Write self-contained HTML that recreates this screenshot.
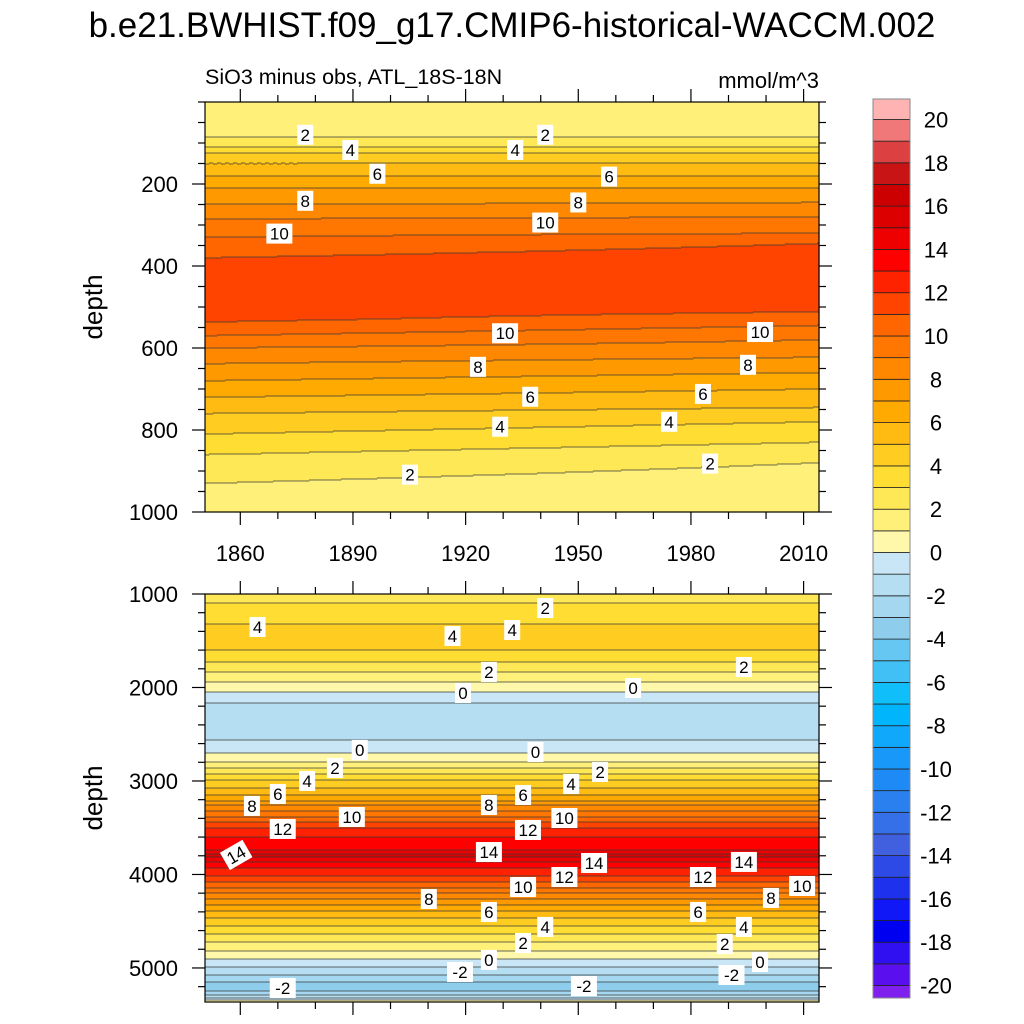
<!DOCTYPE html>
<html><head><meta charset="utf-8"><style>
html,body{margin:0;padding:0;background:#fff;}
svg{display:block;font-family:"Liberation Sans",Arial,sans-serif;}
</style></head><body>
<svg id="chart" width="1024" height="1024" viewBox="0 0 1024 1024" xmlns="http://www.w3.org/2000/svg">
<rect width="1024" height="1024" fill="#fff"/>
<text x="512" y="37" font-size="35" text-anchor="middle" fill="#000">b.e21.BWHIST.f09_g17.CMIP6-historical-WACCM.002</text>
<text x="205" y="84" font-size="21.5" fill="#000">SiO3 minus obs, ATL_18S-18N</text>
<text x="819" y="88" font-size="22" text-anchor="end" fill="#000">mmol/m^3</text>
<text transform="translate(102,307) rotate(-90)" font-size="26" text-anchor="middle">depth</text>
<text transform="translate(102,798) rotate(-90)" font-size="26" text-anchor="middle">depth</text>
<g id="layers"></g>
</svg>
<script>
// ---- data ----
const topDepths = [0, 40, 85, 110, 125, 150, 180, 210, 250, 285, 330, 380, 420, 480, 530, 570, 600, 630, 680, 720, 760, 810, 860, 930, 1000];
const topLeft   = [1.3, 1.3, 2.0, 3.0, 4.0, 5.0, 6.0, 7.0, 8.0, 9.0, 10.0, 11.0, 11.8, 11.9, 11.2, 10.0, 9.0, 8.2, 7.0, 6.0, 5.0, 4.0, 3.0, 2.0, 1.5];
const topRightDepths = [0, 40, 85, 110, 125, 150, 180, 210, 245, 280, 320, 345, 400, 470, 505, 545, 580, 615, 660, 700, 745, 780, 830, 880, 960, 1000];
const topRight  = [1.3, 1.3, 2.0, 3.0, 4.0, 5.0, 6.0, 7.0, 8.0, 9.0, 10.0, 11.0, 11.8, 11.9, 11.2, 10.0, 9.0, 8.2, 7.0, 6.0, 5.0, 4.0, 3.0, 2.0, 1.1, 1.3];
const botDepths = [1000, 1100, 1320, 1500, 1600, 1730, 1830, 1940, 2050, 2170, 2400, 2560, 2700, 2800, 2860, 2930, 2990, 3080, 3145, 3210, 3260, 3320, 3380, 3440, 3508, 3600, 3735, 3800, 3866, 3930, 4020, 4080, 4140, 4200, 4265, 4330, 4394, 4470, 4554, 4640, 4725, 4815, 4906, 4990, 5070, 5150, 5200, 5250, 5290, 5320, 5340, 5364];
const botLeft   = [2.5, 3.0, 4.0, 4.4, 4.0, 3.0, 2.0, 1.0, 0.0, -1.0, -1.6, -1.0, 0.0, 1.0, 2.0, 3.0, 4.0, 5.0, 6.0, 7.0, 8.0, 9.0, 10.0, 11.0, 12.0, 13.0, 14.0, 15.3, 14.0, 13.0, 12.0, 11.0, 10.0, 9.0, 8.0, 7.0, 6.0, 5.0, 4.0, 3.0, 2.0, 1.0, 0.0, -1.0, -2.0, -3.0, -3.5, -3.0, -2.0, -1.0, 0.0, 0.5];
const botRight  = [2.5, 3.0, 4.0, 4.4, 4.0, 3.0, 2.0, 1.0, 0.0, -1.0, -1.9, -1.0, 0.0, 1.0, 2.0, 3.0, 4.0, 5.0, 6.0, 7.0, 8.0, 9.0, 10.0, 11.0, 12.0, 13.0, 14.0, 15.3, 14.0, 13.0, 12.0, 11.0, 10.0, 9.0, 8.0, 7.0, 6.0, 5.0, 4.0, 3.0, 2.0, 1.0, 0.0, -1.0, -2.0, -3.0, -3.5, -3.0, -2.0, -1.0, 0.0, 0.5];
const colorLevels = ["#8020ee","#5a10ee","#3010f0","#0000f0","#1018f8","#1e32ee","#2e4ae6","#4060e0","#3570e8","#2a80ee","#1e8af5","#1898f8","#10a8fa","#00b5fb","#10bff9","#40c0f5","#66c8f2","#8ecdec","#a5d8f0","#b5def2","#c8e6f5",
 "#fff8aa","#fff07a","#ffe855","#ffdd33","#ffcc22","#ffbb11","#ffaa00","#ff9900","#ff8800","#ff7700","#ff6600","#ff4400","#ff2200","#ff0000","#ee0000","#dd0000","#cc0000","#c81414","#dc4040","#f07878","#ffb3b3"];
const cbTicks = [20,18,16,14,12,10,8,6,4,2,0,-2,-4,-6,-8,-10,-12,-14,-16,-18,-20];
const topYTicks = [200,400,600,800,1000];
const botYTicks = [1000,2000,3000,4000,5000];
const xTicks = [1860,1890,1920,1950,1980,2010];
const topLabelYears = [1877.3,1941.2,1889.3,1933.2,1896.5,1958.2,1877.3,1950,1870.4,1941.2,1930.5,1998.4,1923.3,1995.2,1937.2,1983.2,1929.2,1974.2,1905.2,1985.1];
const topLabelDepths = [80,80,117,117,175,182,241,245,321,294,564,561,646,641,719,712,792,780,909,882];
const topLabelText = ["2","2","4","4","6","6","8","8","10","10","10","10","8","8","6","6","4","4","2","2"];
const botLabelYears = [1941.2,1864.6,1916.5,1932.4,1926.2,1994.1,1919.3,1964.6,1891.8,1938.6,1885.2,1955.8,1877.8,1948.1,1870,1935.3,1863.1,1926.2,1889.7,1946.3,1871.3,1936.6,1858.9,1926.2,1954.2,1994.1,1946.3,1983.2,1935.3,2009.6,1910.2,2001.3,1926.2,1981.9,1941.2,1994.1,1935.3,1989,1926.2,1998.4,1918.5,1990.8,1871.3,1951.5];
const botLabelDepths = [1150,1353,1449,1385,1834,1781,2059,2005,2668,2690,2861,2904,3000,3032,3139,3150,3267,3257,3385,3396,3513,3524,3791,3760,3877,3866,4027,4027,4134,4123,4262,4251,4401,4401,4561,4561,4733,4743,4914,4936,5043,5075,5214,5193];
const botLabelText = ["2","4","4","4","2","2","0","0","0","0","2","2","4","4","6","6","8","8","10","10","12","12","14","14","14","14","12","12","10","10","8","8","6","6","4","4","2","2","0","0","-2","-2","-2","-2"];

// ---- layout ----
const NS = "http://www.w3.org/2000/svg";
const X0 = 205, X1 = 819, YR0 = 1850.6, YR1 = 2014.1;
const xScale = yr => X0 + (yr - YR0) / (YR1 - YR0) * (X1 - X0);
const topPanel = {y0:102, y1:512, d0:0, d1:1000};
const botPanel = {y0:594, y1:1002, d0:1000, d1:5364};
const yScale = (p, d) => p.y0 + (d - p.d0) / (p.d1 - p.d0) * (p.y1 - p.y0);
const layers = document.getElementById('layers');
function mk(tag, attrs, parent){ const e = document.createElementNS(NS, tag); for (const k in attrs) e.setAttribute(k, attrs[k]); (parent||layers).appendChild(e); return e; }
function interp(ds, vs, d){
  if (d <= ds[0]) return vs[0];
  for (let i = 1; i < ds.length; i++) if (d <= ds[i]) { const t = (d - ds[i-1]) / (ds[i] - ds[i-1]); return vs[i-1] + t * (vs[i] - vs[i-1]); }
  return vs[vs.length-1];
}
function colorIdx(v){ return Math.max(0, Math.min(colorLevels.length-1, Math.floor(v) + 21)); }

function drawPanel(p, dL, vL, dR, vR, name){
  const g = mk('g', {});
  
  
  const lines = [];
  const step = 4, W = X1 - X0;
  for (let cx = 0; cx < W; cx += step) {
    const f = (cx + step/2) / W;
    const w = Math.min(step, W - cx);
    let runStart = p.y0, runK = null;
    for (let py = p.y0; py <= p.y1; py++) {
      let k = null;
      if (py < p.y1) {
        const d = p.d0 + (py + 0.5 - p.y0) / (p.y1 - p.y0) * (p.d1 - p.d0);
        const v = (1 - f) * interp(dL, vL, d) + f * interp(dR, vR, d);
        k = colorIdx(v);
      }
      if (k !== runK) {
        if (runK !== null) {
          const r = mk('rect', {x: X0 + cx, y: runStart, width: w + 0.6, height: py - runStart + 0.6, fill: colorLevels[runK]}, g);
          
          
          if (k !== null) lines.push([X0 + cx, py, w]);
        }
        runStart = py; runK = k;
      }
    }
  }
  const lg = mk('g', {stroke:'#3a3a3a', 'stroke-width':'0.8', fill:'none'});
  
  
  let dstr = '';
  lines.forEach(l => { dstr += 'M' + l[0] + ' ' + l[1] + 'h' + (l[2] + 0.3); });
  mk('path', {d: dstr}, lg);
  const box = mk('rect', {x: X0, y: p.y0, width: X1 - X0, height: p.y1 - p.y0, fill: 'none', stroke: '#000', 'stroke-width': 1.2});
  
  
}
drawPanel(topPanel, topDepths, topLeft, topRightDepths, topRight, 'top-panel');
drawPanel(botPanel, botDepths, botLeft, botDepths, botRight, 'bottom-panel');

function drawLabels(p, yrs, ds, txt, name){
  for (let i = 0; i < yrs.length; i++) {
    const x = xScale(yrs[i]), y = yScale(p, ds[i]);
    const w = txt[i].length * 10 + 6;
    const g = mk('g', {});
    
    
    if (p === botPanel && txt[i] === '14' && i === 22) g.setAttribute('transform', 'rotate(-30 ' + x + ' ' + y + ')');
    mk('rect', {x: x - w/2, y: y - 10, width: w, height: 20, fill: '#fff'}, g);
    const t = mk('text', {x: x, y: y + 6, 'font-size': 17, 'text-anchor': 'middle', fill: '#000'}, g);
    t.textContent = txt[i];
  }
}
drawLabels(topPanel, topLabelYears, topLabelDepths, topLabelText, 'top');
drawLabels(botPanel, botLabelYears, botLabelDepths, botLabelText, 'bottom');

// ---- axes ----
function tick(x1,y1,x2,y2,name){ const l = mk('line',{x1,y1,x2,y2,stroke:'#000','stroke-width':1.2});   }
function drawAxes(p, yTicks, minorStep, showXLabels, name){
  for (let d = p.d0; d <= p.d1; d += minorStep) {
    const y = yScale(p, d), major = yTicks.indexOf(d) >= 0;
    const L = major ? 13 : 7;
    tick(X0 - L, y, X0, y, name + '-y-tick');
    tick(X1, y, X1 + L, y, name + '-y-tick-right');
  }
  yTicks.forEach(d => {
    const t = mk('text', {x: X0 - 27, y: yScale(p, d) + 8, 'font-size': 22, 'text-anchor': 'end'});
    
    
    t.textContent = d;
  });
  for (let yr = 1860; yr <= 2014; yr += 10) {
    const x = xScale(yr), major = xTicks.indexOf(yr) >= 0;
    const L = major ? 13 : 7;
    tick(x, p.y0 - L, x, p.y0, name + '-x-tick-top');
    tick(x, p.y1, x, p.y1 + L, name + '-x-tick');
  }
  if (showXLabels) xTicks.forEach(yr => {
    const t = mk('text', {x: xScale(yr), y: 561, 'font-size': 22, 'text-anchor': 'middle'});
    
    
    t.textContent = yr;
  });
}
drawAxes(topPanel, topYTicks, 50, true, 'top');
drawAxes(botPanel, botYTicks, 200, false, 'bottom');

// ---- colorbar ----
const CBX = 873, CBW = 37, CBTOP = 99, CB20 = 119.5, CBSTEP = 21.65, CBBOT = 998;
const cbY = v => CB20 + (20 - v) * CBSTEP;
const cb = mk('g', {});


for (let k = 0; k < colorLevels.length; k++) {
  const lo = k - 21, hi = lo + 1;
  const yTop = Math.max(CBTOP, cbY(hi)), yBot = Math.min(CBBOT, cbY(lo));
  const r = mk('rect', {x: CBX, y: yTop, width: CBW, height: yBot - yTop, fill: colorLevels[k], stroke: '#222', 'stroke-width': 0.8}, cb);
  
  
}
mk('rect', {x: CBX, y: CBTOP, width: CBW, height: CBBOT - CBTOP, fill: 'none', stroke: '#888', 'stroke-width': 1}, cb);
cbTicks.forEach(v => {
  const t = mk('text', {x: 936, y: cbY(v) + 8, 'font-size': 22, 'text-anchor': 'middle'}, cb);
  
  
  t.textContent = v;
});
</script>
</body></html>
